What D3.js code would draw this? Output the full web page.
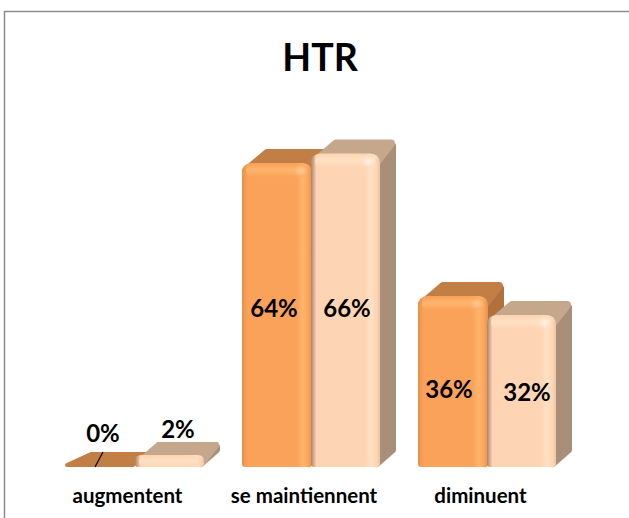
<!DOCTYPE html>
<html>
<head>
  <title>HTR</title>
  <style>
    html, body { margin:0; padding:0; background:#fff; }
    svg { display:block; }
    text { font-family: Lato, "Noto Sans", sans-serif; font-weight:700; fill:#000; }
  </style>
  <script src="https://d3js.org/d3.v7.min.js"></script>
</head>
<body>
<svg id="chart" width="629" height="518"></svg>
<script>
  var categories = ["augmentent", "se maintiennent", "diminuent"];
  var seriesNames = ["a", "b"];
  var seriesA = [0, 64, 36];
  var seriesB = [2, 66, 32];
  var titleText = "HTR";

  var svg = d3.select("#chart");
  var defs = svg.append("defs");

  var baseY = 467, depthX = 18, depthY = 14, flatDepthY = 17, r = 10, minFront = 12;

  var x = d3.scaleBand().domain(categories).range([66, 594]);
  var inner = d3.scaleBand().domain(seriesNames).range([0, 140]);
  var y = d3.scaleLinear().domain([0, 66]).range([baseY, 153.5]);

  // colours: front, top face, side face, highlight, shadow edge
  var palette = {
    a: {front:"#FBA25A", top:"#C17F45", side:"#B0713C", light:"#FFB56C", edge:"#E5914D", left:"#E5914D"},
    b: {front:"#FED5B4", top:"#C5A78C", side:"#A98F7A", light:"#FFE0C4", edge:"#EAC6A6", left:"#A98463"}
  };

  defs.append("filter").attr("id", "soft")
    .append("feGaussianBlur").attr("stdDeviation", 0.7);
  defs.append("filter").attr("id", "soft2")
    .attr("x", "-50%").attr("y", "-50%").attr("width", "200%").attr("height", "200%")
    .append("feGaussianBlur").attr("stdDeviation", 2);

  seriesNames.forEach(function(s) {
    var c = palette[s];
    // horizontal gradient for the front face
    var g = defs.append("linearGradient").attr("id", "front-" + s);
    g.append("stop").attr("offset", "0").attr("stop-color", c.left);
    g.append("stop").attr("offset", "0.08").attr("stop-color", c.front);
    g.append("stop").attr("offset", "0.78").attr("stop-color", c.front);
    g.append("stop").attr("offset", "0.87").attr("stop-color", c.light);
    g.append("stop").attr("offset", "0.95").attr("stop-color", c.front);
    g.append("stop").attr("offset", "1").attr("stop-color", c.edge);
    // bevel along the top of the front face
    var v = defs.append("linearGradient").attr("id", "bevel-" + s).attr("x2", 0).attr("y2", 1);
    v.append("stop").attr("offset", "0").attr("stop-color", c.front);
    v.append("stop").attr("offset", "0.45").attr("stop-color", c.light);
    v.append("stop").attr("offset", "1").attr("stop-color", c.front);
  });

  // chart frame, open on the right and at the bottom
  svg.append("path")
    .attr("d", "M4.5,518V11.5H629")
    .attr("fill", "none")
    .attr("stroke", "#8c8c8c")
    .attr("stroke-width", 1.5);

  svg.append("text").text(titleText)
    .attr("x", 320).attr("y", 71)
    .attr("text-anchor", "middle")
    .style("font-size", "37.5px");

  var rows = [];
  categories.forEach(function(cat, i) {
    rows.push({cat:cat, s:"a", v:seriesA[i]});
    rows.push({cat:cat, s:"b", v:seriesB[i]});
  });

  function facePath(pts) {
    return "M" + pts.map(function(p) { return p.join(","); }).join("L") + "Z";
  }

  function drawBar(g, d) {
    var c = palette[d.s];
    var x0 = x(d.cat) + inner(d.s) - (d.s == "b" ? 1 : 0);
    var w = inner.bandwidth() - (d.s == "b" ? 1 : 0);
    var x1 = x0 + w;
    var flat = d.v == 0;
    var yt = flat ? baseY : Math.min(y(d.v), baseY - minFront);
    var h = baseY - yt;
    var dy = flat ? flatDepthY : depthY;
    var b = g.append("g").attr("filter", "url(#soft)");

    // side and top faces get their round corners from a thick round-joined stroke
    if (!flat) {
      b.append("path")
        .attr("d", facePath([
          [x1 - 4, yt + 6],
          [x1 + depthX - 5, yt - dy + 6],
          [x1 + depthX - 5, baseY - dy - 3],
          [x1 - 3, baseY - 3]
        ]))
        .attr("fill", c.side).attr("stroke", c.side)
        .attr("stroke-width", 6).attr("stroke-linejoin", "round");
    }
    b.append("path")
      .attr("d", facePath([
        [flat ? x0 + 1 : x0 + 4, flat ? baseY - 2 : yt + 8],
        [x0 + depthX + 7, yt - dy + 4],
        [x1 + depthX - 7, yt - dy + 4],
        [x1 - 3, flat ? baseY - 2 : yt + 8]
      ]))
      .attr("fill", c.top).attr("stroke", c.top)
      .attr("stroke-width", flat ? 4 : 8).attr("stroke-linejoin", "round");

    if (flat) return;

    // front face, big radius on top and a small one at the foot
    var rt = Math.min(r, h / 2), rb = 3;
    b.append("path")
      .attr("d", "M" + x0 + "," + (yt + rt)
        + "Q" + x0 + "," + yt + " " + (x0 + rt) + "," + yt
        + "H" + (x1 - rt)
        + "Q" + x1 + "," + yt + " " + x1 + "," + (yt + rt)
        + "V" + (baseY - rb)
        + "Q" + x1 + "," + baseY + " " + (x1 - rb) + "," + baseY
        + "H" + (x0 + rb)
        + "Q" + x0 + "," + baseY + " " + x0 + "," + (baseY - rb) + "Z")
      .attr("fill", "url(#front-" + d.s + ")");
    b.append("rect")
      .attr("x", x0 + 4).attr("y", yt + 1)
      .attr("width", w - 9).attr("height", Math.min(13, h - 1))
      .attr("rx", 6)
      .attr("fill", "url(#bevel-" + d.s + ")");
    if (h > 40) {
      // small glint at the upper right corner
      g.append("ellipse")
        .attr("cx", x1 - 11).attr("cy", yt + 8)
        .attr("rx", 4).attr("ry", 4)
        .attr("fill", d.s == "a" ? "#FFC98E" : "#FFF3E2")
        .attr("filter", "url(#soft2)");
    }
  }

  var barLayer = svg.append("g");
  rows.forEach(function(d) { drawBar(barLayer, d); });

  // value labels sit where they were placed by hand in the original
  var labelPos = {
    "a0": [103, 442], "b0": [178, 438],
    "a1": [274, 317], "b1": [347, 317],
    "a2": [449, 398], "b2": [527, 401]
  };
  rows.forEach(function(d) {
    var i = categories.indexOf(d.cat);
    var p = labelPos[d.s + i];
    svg.append("text").text(d.v + "%")
      .attr("x", p[0]).attr("y", p[1])
      .attr("text-anchor", "middle")
      .style("font-size", "24px");
  });

  // leader line of the 0% label
  svg.append("line")
    .attr("x1", 103).attr("y1", 452)
    .attr("x2", 95).attr("y2", 467)
    .attr("stroke", "#000")
    .attr("stroke-width", 1.2);

  // category axis, labels only
  var axis = d3.axisBottom(d3.scalePoint().domain(categories).range([127, 480]))
    .tickSize(0).tickPadding(0);
  var ax = svg.append("g").attr("transform", "translate(0,488)").call(axis);
  ax.select(".domain").remove();
  ax.selectAll("text")
    .style("font-size", "20.5px")
    .style("font-family", "Lato, sans-serif");
</script>
</body>
</html>
